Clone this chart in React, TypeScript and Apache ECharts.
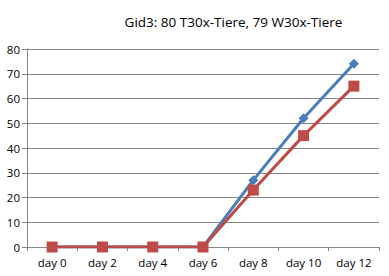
import React, { useEffect, useRef } from "react";
import * as echarts from "echarts";

const categories = ["day 0", "day 2", "day 4", "day 6", "day 8", "day 10", "day 12"];
const t30xValues = [0, 0, 0, 0, 27, 52, 74];
const w30xValues = [0, 0, 0, 0, 23, 45, 65];
const titleText = "Gid3: 80 T30x-Tiere, 79 W30x-Tiere";

export default function App() {
  const ref = useRef<HTMLDivElement>(null);
  useEffect(() => {
    document.body.style.margin = "0";
    const chart = echarts.init(ref.current!, null, { renderer: "svg" });
    const font = "'Open Sans', 'DejaVu Sans', sans-serif";
    chart.setOption({
      animation: false,
      backgroundColor: "#ffffff",
      graphic: [
        {
          type: "text",
          x: 233.5,
          y: 22,
          style: {
            text: titleText,
            fontFamily: font,
            fontSize: 13.5,
            fill: "#000000",
            align: "center",
            verticalAlign: "middle",
          },
        },
      ],
      grid: { left: 27, right: 10, top: 49, bottom: 29, containLabel: false },
      xAxis: {
        type: "category",
        data: categories,
        boundaryGap: true,
        axisLine: { show: true, lineStyle: { color: "#868686", width: 1 } },
        axisTick: { show: true, length: 4, lineStyle: { color: "#868686" } },
        axisLabel: { fontFamily: font, fontSize: 11.5, color: "#000000", margin: 9 },
        splitLine: { show: false },
      },
      yAxis: {
        type: "value",
        min: 0,
        max: 80,
        interval: 10,
        axisLine: { show: true, lineStyle: { color: "#868686", width: 1 } },
        axisTick: { show: true, length: 5, lineStyle: { color: "#868686" } },
        axisLabel: { fontFamily: font, fontSize: 11.5, color: "#000000", margin: 7 },
        splitLine: { show: true, lineStyle: { color: "#868686", width: 1 } },
      },
      series: [
        {
          name: "T30x",
          type: "line",
          data: t30xValues,
          symbol: "diamond",
          symbolSize: 10,
          lineStyle: { color: "#4a7ebb", width: 3 },
          itemStyle: { color: "#4a7ebb" },
        },
        {
          name: "W30x",
          type: "line",
          data: w30xValues,
          symbol: "rect",
          symbolSize: 11,
          lineStyle: { color: "#be4b48", width: 3 },
          itemStyle: { color: "#be4b48" },
        },
      ],
    });
    return () => chart.dispose();
  }, []);
  return <div ref={ref} style={{ width: 389, height: 276 }} />;
}
